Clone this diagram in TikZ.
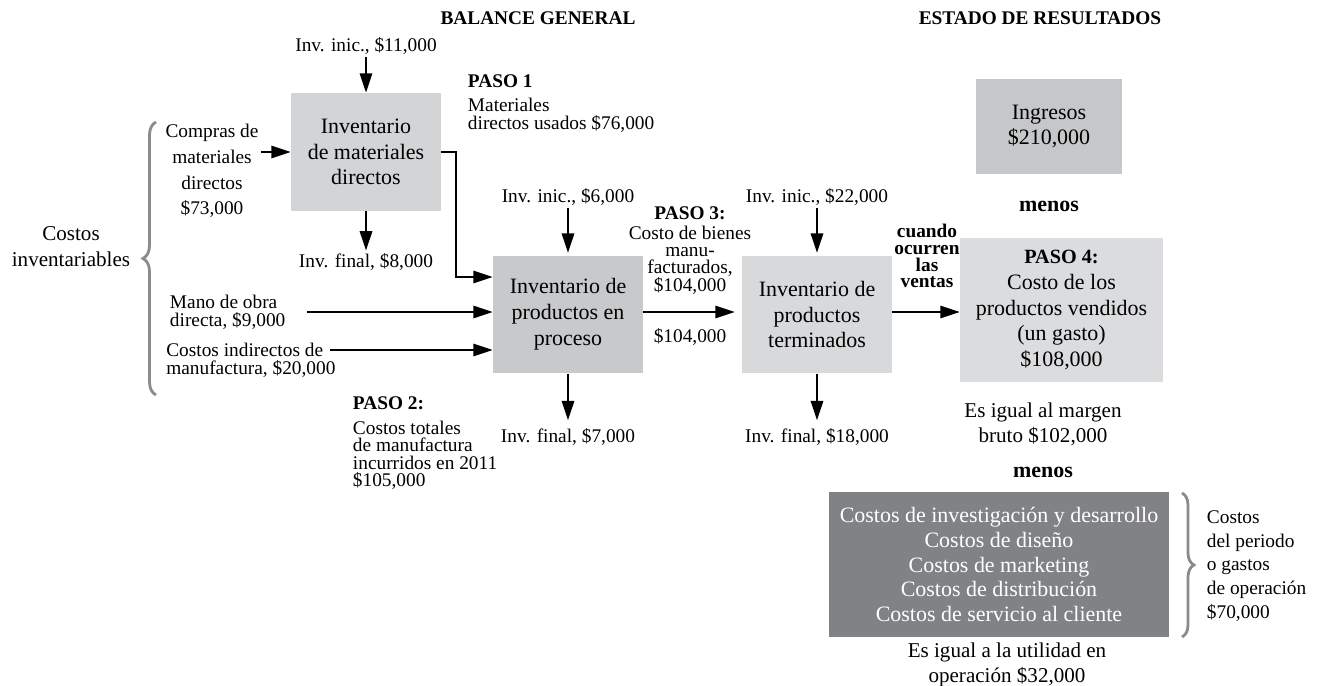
\documentclass[tikz,border=0pt]{standalone}
\usepackage{fontspec}
\setmainfont{Liberation Serif}
\usetikzlibrary{arrows.meta,decorations.pathreplacing}

\definecolor{matGray}{HTML}{D3D4D6}
\definecolor{wipGray}{HTML}{C8C9CB}
\definecolor{fgGray}{HTML}{D8D9DB}
\definecolor{ingGray}{HTML}{C6C7C9}
\definecolor{cogsGray}{HTML}{DBDCDE}
\definecolor{periodGray}{HTML}{808285}
\definecolor{braceGray}{HTML}{8A8B8D}

\newcommand{\fsBox}{\fontsize{12.5}{14.7}\selectfont}
\newcommand{\fsLbl}{\fontsize{11}{10.2}\selectfont}

\begin{document}
\begin{tikzpicture}[x=0.02cm, y=-0.02cm, >={Triangle[length=11pt,width=7pt]},
    stock/.style={align=center, inner sep=0pt, font=\fsBox, minimum width=3cm, minimum height=2.35cm},
    lbl/.style={inner sep=1.5pt, font=\fsLbl},
    hdr/.style={inner sep=1pt, font=\fontsize{11}{13}\selectfont\bfseries},
    conn/.style={->, line width=1.2pt},
    brc/.style={decorate, decoration={brace, amplitude=0.26cm}, line width=1.6pt, draw=braceGray}]

    \useasboundingbox (0,0) rectangle (1333,686);

    % Headings
    \node[hdr] (bal) at (538,18) {BALANCE GENERAL};
    \node[hdr] (est) at (1040,18) {ESTADO DE RESULTADOS};

    % Direct materials
    \node[lbl] (iniMat) at (366,46) {Inv. inic., \$11,000};
    \node[stock, fill=matGray, minimum height=2.36cm] (mat) at (366,152) {Inventario\\de materiales\\directos};
    \node[lbl] (finMat) at (366,262) {Inv. final, \$8,000};
    \node[lbl, align=center, font=\fontsize{11}{14.7}\selectfont] (compras) at (212,171) {Compras de\\materiales\\directos\\\$73,000};
    \node[lbl, anchor=north west, align=left] (paso1) at (465,72) {\textbf{PASO 1}\\[3.4pt]Materiales\\directos usados \$76,000};

    % Inventoriable costs
    \node[lbl, align=center, font=\fontsize{12}{14.7}\selectfont] (costosInv) at (71,247) {Costos\\inventariables};
    \draw[brc] (156,395) -- (156,122);
    \node[lbl, anchor=west, align=left] (mano) at (167,312) {Mano de obra\\directa, \$9,000};
    \node[lbl, inner sep=0pt, anchor=west] (indir) at (166,350) {Costos indirectos de};
    \node[lbl, inner sep=0pt, anchor=west] (indirB) at (166,369) {manufactura, \$20,000};
    \node[lbl, anchor=north west, align=left, font=\fontsize{11}{9.8}\selectfont] (paso2) at (350,394) {\textbf{PASO 2:}\\[4.4pt]Costos totales\\de manufactura\\incurridos en 2011\\\$105,000};

    % Work in process
    \node[lbl] (iniWip) at (568,197) {Inv. inic., \$6,000};
    \node[stock, fill=wipGray] (wip) at (568,314.5) {Inventario de\\productos en\\proceso};
    \node[lbl] (finWip) at (568,437) {Inv. final, \$7,000};
    \node[lbl, anchor=north, align=center, font=\fontsize{11}{9.6}\selectfont] (paso3) at (690,204) {\textbf{PASO 3:}\\[1.6pt]Costo de bienes\\manu-\\facturados,\\\$104,000};
    \node[lbl] (wipOut) at (690,337) {\$104,000};

    % Finished goods
    \node[lbl] (iniFg) at (817,197) {Inv. inic., \$22,000};
    \node[stock, fill=fgGray] (fg) at (817,314.5) {Inventario de\\productos\\terminados};
    \node[lbl] (finFg) at (817,437) {Inv. final, \$18,000};
    \node[lbl, anchor=north, align=center, font=\fontsize{11}{9.6}\selectfont\bfseries] (ventas) at (927,221) {cuando\\ocurren\\las\\ventas};

    % Income statement
    \node[stock, fill=ingGray, minimum width=2.92cm, minimum height=1.9cm, font=\fontsize{12.5}{14.2}\selectfont] (ing) at (1049,126.5) {Ingresos\\\$210,000};
    \node[hdr, font=\fontsize{12.5}{14}\selectfont\bfseries] (menosA) at (1049,206) {menos};
    \node[stock, fill=cogsGray, minimum width=4.06cm, minimum height=2.88cm] (cogs) at (1061.5,310) {{\fontsize{11.5}{14.7}\selectfont\bfseries PASO 4:}\\Costo de los\\productos vendidos\\(un gasto)\\\$108,000};
    \node[lbl, align=center, font=\fontsize{12}{14.2}\selectfont] (margen) at (1043,424) {Es igual al margen\\bruto \$102,000};
    \node[hdr, font=\fontsize{12.5}{14}\selectfont\bfseries] (menosB) at (1043,472) {menos};
    \node[stock, fill=periodGray, text=white, minimum width=6.8cm, minimum height=2.9cm, font=\fontsize{12.5}{14.2}\selectfont] (period) at (999,564.5) {Costos de investigación y desarrollo\\Costos de diseño\\Costos de marketing\\Costos de distribución\\Costos de servicio al cliente};
    \draw[brc, decoration={amplitude=0.24cm}] (1182,493) -- (1182,637);
    \node[lbl, anchor=west, align=left, font=\fontsize{11}{13.6}\selectfont] (gastos) at (1204,566) {Costos\\del periodo\\o gastos\\de operación\\\$70,000};
    \node[lbl, align=center, font=\fontsize{12}{14.2}\selectfont] (utilidad) at (1007,665) {Es igual a la utilidad en\\operación \$32,000};

    % Flows
    \draw[conn] (iniMat) -- (mat);
    \draw[conn] (mat) -- (finMat);
    \draw[conn] (compras.east |- mat.west) -- (mat.west);
    \draw[conn] (mat.east) -- ++(15,0) |- (wip.west |- 0,277);
    \draw[conn] ([xshift=0.38cm]mano.east) -- (wip.west |- mano.east);
    \draw[conn] ([xshift=4pt]indir.east) -- (wip.west |- indir.east);
    \draw[conn, shorten >=1.5pt] (iniWip) -- (wip);
    \draw[conn, shorten >=3pt] (wip) -- (finWip);
    \draw[conn, shorten >=0.14cm] (wip.east |- 0,312) -- (fg.west |- 0,312);
    \draw[conn, shorten >=1.5pt] (iniFg) -- (fg);
    \draw[conn, shorten >=3pt] (fg) -- (finFg);
    \draw[conn] (fg.east |- 0,312) -- (cogs.west |- 0,312);

\end{tikzpicture}
\end{document}
